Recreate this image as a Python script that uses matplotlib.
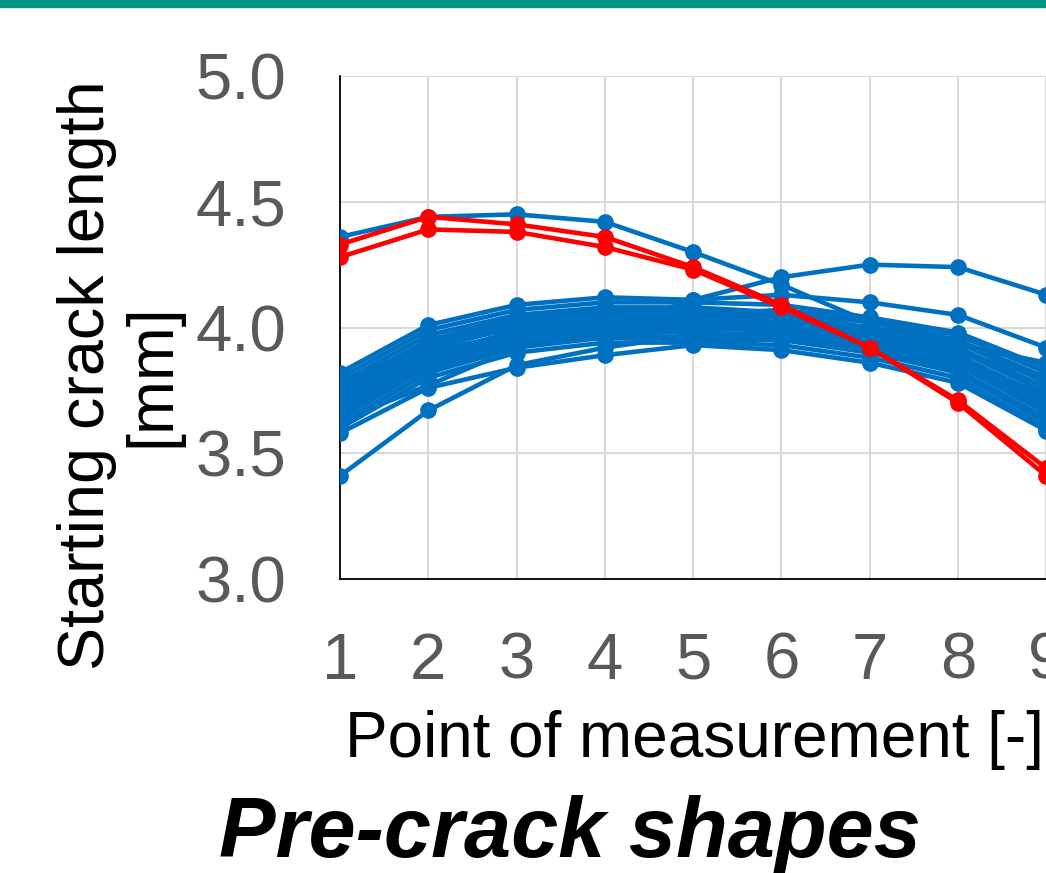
import matplotlib as mpl
import matplotlib.pyplot as plt
from matplotlib.patches import Rectangle

# points of measurement
points = [1, 2, 3, 4, 5, 6, 7, 8, 9]

# blue specimens (starting crack length, mm)
blue_shapes = [
    [4.36, 4.44, 4.45, 4.42, 4.30, 4.17, 4.02, 3.95, 3.78],
    [3.63, 3.77, 3.92, 3.99, 4.11, 4.20, 4.25, 4.24, 4.13],
    [3.82, 4.01, 4.09, 4.12, 4.11, 4.13, 4.10, 4.05, 3.92],
    [3.41, 3.67, 3.85, 3.92, 3.97, 3.98, 3.93, 3.86, 3.70],
    [3.80, 3.99, 4.07, 4.10, 4.10, 4.09, 4.04, 3.98, 3.84],
    [3.78, 3.97, 4.05, 4.08, 4.08, 4.06, 4.02, 3.95, 3.80],
    [3.76, 3.95, 4.04, 4.06, 4.07, 4.05, 4.00, 3.94, 3.78],
    [3.75, 3.93, 4.02, 4.05, 4.05, 4.07, 4.03, 3.97, 3.82],
    [3.73, 3.92, 4.00, 4.04, 4.04, 4.03, 3.99, 3.92, 3.76],
    [3.72, 3.90, 3.98, 4.03, 4.02, 4.01, 3.97, 3.91, 3.74],
    [3.70, 3.89, 3.97, 4.01, 4.03, 4.02, 3.96, 3.89, 3.72],
    [3.69, 3.87, 3.96, 4.00, 4.00, 3.99, 3.94, 3.88, 3.70],
    [3.67, 3.86, 3.95, 3.99, 3.99, 4.00, 3.95, 3.86, 3.68],
    [3.66, 3.85, 3.94, 3.98, 3.98, 3.97, 3.93, 3.85, 3.66],
    [3.64, 3.84, 3.93, 3.97, 3.96, 3.96, 3.91, 3.83, 3.64],
    [3.62, 3.82, 3.92, 3.96, 3.95, 3.95, 3.90, 3.82, 3.62],
    [3.60, 3.80, 3.90, 3.94, 3.94, 3.93, 3.88, 3.80, 3.60],
    [3.58, 3.76, 3.84, 3.89, 3.93, 3.91, 3.86, 3.78, 3.59],
    [3.77, 3.94, 4.03, 4.07, 4.06, 4.04, 3.98, 3.93, 3.86],
    [3.71, 3.91, 4.01, 4.02, 4.01, 4.00, 3.96, 3.90, 3.80],
    [3.65, 3.88, 3.99, 4.03, 3.97, 3.98, 3.92, 3.84, 3.74],
    [3.68, 3.83, 3.94, 4.00, 4.05, 4.02, 3.97, 3.87, 3.66],
]

# red specimens
red_shapes = [
    [4.33, 4.44, 4.41, 4.36, 4.24, 4.09, 3.92, 3.71, 3.44],
    [4.28, 4.39, 4.38, 4.32, 4.23, 4.08, 3.92, 3.70, 3.41],
]

y_ticks = [3.0, 3.5, 4.0, 4.5, 5.0]

mpl.rcParams['font.family'] = ['Liberation Sans', 'DejaVu Sans']

W, H = 1046, 873
dpi = 100
fig = plt.figure(figsize=(W / dpi, H / dpi), dpi=dpi)

# teal band on top
fig.patches.append(Rectangle((0, 1 - 7 / H), 1, 7 / H, transform=fig.transFigure,
                             color='#009682', zorder=0))

x0, xstep = 340, 88.3
ytop, ybot = 76, 579
ax = fig.add_axes([x0 / W, 1 - ybot / H, 9 * xstep / W, (ybot - ytop) / H])

for s in blue_shapes:
    ax.plot(points, s, color='#0070C0', lw=3.3, marker='o', ms=11, zorder=3)
for s in red_shapes:
    ax.plot(points, s, color='#FF0000', lw=3.3, marker='o', ms=11, zorder=4)

ax.set_xlim(1, 10)
ax.set_ylim(3.0, 5.0)
ax.set_xticks(points)
ax.set_yticks(y_ticks)
ax.set_yticklabels(['%.1f' % v for v in y_ticks])
ax.grid(True, color='#D9D9D9', lw=1.5, zorder=0)
ax.set_axisbelow(True)
for side in ['top', 'right']:
    ax.spines[side].set_visible(False)
for side in ['left', 'bottom']:
    ax.spines[side].set_color('black')
    ax.spines[side].set_linewidth(1.3)
ax.tick_params(length=0, labelsize=47, labelcolor='#595959')
ax.tick_params(axis='x', pad=38)
ax.tick_params(axis='y', pad=39)

fig.text(694 / W, 1 - 740 / H, 'Point of measurement [-]', fontsize=46,
         ha='center', va='center')
fig.text(120 / W, 1 - 375 / H, 'Starting crack length\n[mm]', fontsize=46.5,
         ha='center', va='center', rotation=90, multialignment='center',
         linespacing=1.12)
fig.text(570 / W, 1 - 835 / H, 'Pre-crack shapes', fontsize=61,
         fontweight='bold', fontstyle='italic', ha='center', va='center')

fig.savefig('out.png', dpi=dpi)
